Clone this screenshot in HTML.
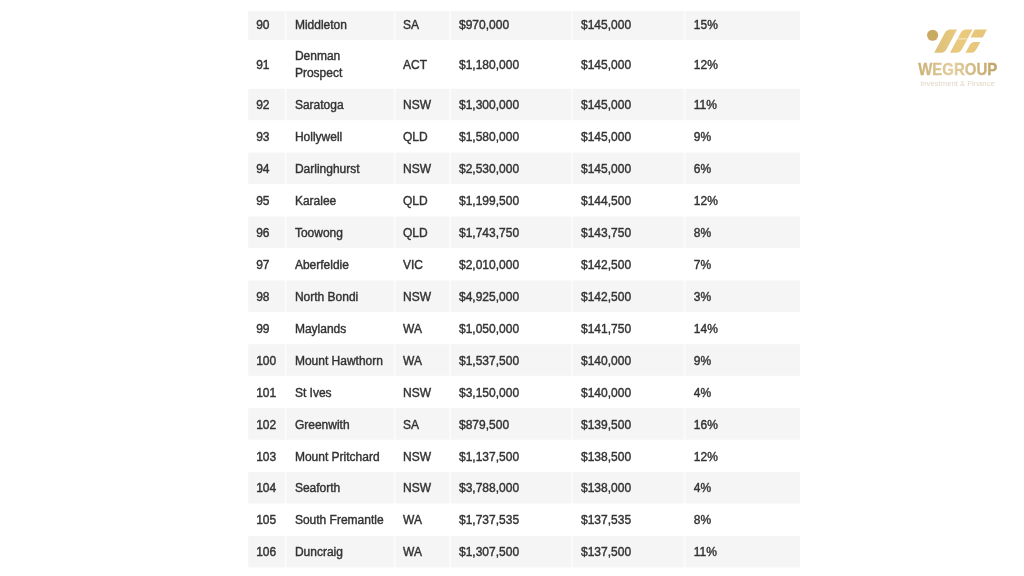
<!DOCTYPE html>
<html><head><meta charset="utf-8">
<style>
html,body{margin:0;padding:0;background:#fff;}
body{width:1024px;height:576px;overflow:hidden;position:relative;font-family:"Liberation Sans",Arial,Helvetica,sans-serif;}
svg text{white-space:pre;}
</style></head><body>
<svg width="1024" height="576" viewBox="0 0 1024 576" style="position:absolute;left:0;top:0;will-change:transform;filter:blur(0.4px)">
<g fill="#f5f5f5">
<rect x="248.20" y="11.10" width="551.80" height="28.90"/>
<rect x="284.65" y="11.10" width="2.00" height="28.90" fill="#fbfbfb"/>
<rect x="393.90" y="11.10" width="2.00" height="28.90" fill="#fbfbfb"/>
<rect x="449.10" y="11.10" width="2.00" height="28.90" fill="#fbfbfb"/>
<rect x="570.90" y="11.10" width="2.00" height="28.90" fill="#fbfbfb"/>
<rect x="683.70" y="11.10" width="2.00" height="28.90" fill="#fbfbfb"/>
<rect x="248.20" y="88.75" width="551.80" height="31.50"/>
<rect x="284.65" y="88.75" width="2.00" height="31.50" fill="#fbfbfb"/>
<rect x="393.90" y="88.75" width="2.00" height="31.50" fill="#fbfbfb"/>
<rect x="449.10" y="88.75" width="2.00" height="31.50" fill="#fbfbfb"/>
<rect x="570.90" y="88.75" width="2.00" height="31.50" fill="#fbfbfb"/>
<rect x="683.70" y="88.75" width="2.00" height="31.50" fill="#fbfbfb"/>
<rect x="248.20" y="152.63" width="551.80" height="31.50"/>
<rect x="284.65" y="152.63" width="2.00" height="31.50" fill="#fbfbfb"/>
<rect x="393.90" y="152.63" width="2.00" height="31.50" fill="#fbfbfb"/>
<rect x="449.10" y="152.63" width="2.00" height="31.50" fill="#fbfbfb"/>
<rect x="570.90" y="152.63" width="2.00" height="31.50" fill="#fbfbfb"/>
<rect x="683.70" y="152.63" width="2.00" height="31.50" fill="#fbfbfb"/>
<rect x="248.20" y="216.51" width="551.80" height="31.50"/>
<rect x="284.65" y="216.51" width="2.00" height="31.50" fill="#fbfbfb"/>
<rect x="393.90" y="216.51" width="2.00" height="31.50" fill="#fbfbfb"/>
<rect x="449.10" y="216.51" width="2.00" height="31.50" fill="#fbfbfb"/>
<rect x="570.90" y="216.51" width="2.00" height="31.50" fill="#fbfbfb"/>
<rect x="683.70" y="216.51" width="2.00" height="31.50" fill="#fbfbfb"/>
<rect x="248.20" y="280.39" width="551.80" height="31.50"/>
<rect x="284.65" y="280.39" width="2.00" height="31.50" fill="#fbfbfb"/>
<rect x="393.90" y="280.39" width="2.00" height="31.50" fill="#fbfbfb"/>
<rect x="449.10" y="280.39" width="2.00" height="31.50" fill="#fbfbfb"/>
<rect x="570.90" y="280.39" width="2.00" height="31.50" fill="#fbfbfb"/>
<rect x="683.70" y="280.39" width="2.00" height="31.50" fill="#fbfbfb"/>
<rect x="248.20" y="344.27" width="551.80" height="31.50"/>
<rect x="284.65" y="344.27" width="2.00" height="31.50" fill="#fbfbfb"/>
<rect x="393.90" y="344.27" width="2.00" height="31.50" fill="#fbfbfb"/>
<rect x="449.10" y="344.27" width="2.00" height="31.50" fill="#fbfbfb"/>
<rect x="570.90" y="344.27" width="2.00" height="31.50" fill="#fbfbfb"/>
<rect x="683.70" y="344.27" width="2.00" height="31.50" fill="#fbfbfb"/>
<rect x="248.20" y="408.15" width="551.80" height="31.50"/>
<rect x="284.65" y="408.15" width="2.00" height="31.50" fill="#fbfbfb"/>
<rect x="393.90" y="408.15" width="2.00" height="31.50" fill="#fbfbfb"/>
<rect x="449.10" y="408.15" width="2.00" height="31.50" fill="#fbfbfb"/>
<rect x="570.90" y="408.15" width="2.00" height="31.50" fill="#fbfbfb"/>
<rect x="683.70" y="408.15" width="2.00" height="31.50" fill="#fbfbfb"/>
<rect x="248.20" y="472.03" width="551.80" height="31.50"/>
<rect x="284.65" y="472.03" width="2.00" height="31.50" fill="#fbfbfb"/>
<rect x="393.90" y="472.03" width="2.00" height="31.50" fill="#fbfbfb"/>
<rect x="449.10" y="472.03" width="2.00" height="31.50" fill="#fbfbfb"/>
<rect x="570.90" y="472.03" width="2.00" height="31.50" fill="#fbfbfb"/>
<rect x="683.70" y="472.03" width="2.00" height="31.50" fill="#fbfbfb"/>
<rect x="248.20" y="535.91" width="551.80" height="31.50"/>
<rect x="284.65" y="535.91" width="2.00" height="31.50" fill="#fbfbfb"/>
<rect x="393.90" y="535.91" width="2.00" height="31.50" fill="#fbfbfb"/>
<rect x="449.10" y="535.91" width="2.00" height="31.50" fill="#fbfbfb"/>
<rect x="570.90" y="535.91" width="2.00" height="31.50" fill="#fbfbfb"/>
<rect x="683.70" y="535.91" width="2.00" height="31.50" fill="#fbfbfb"/>
</g>
<g fill="#333" stroke="#333" stroke-width="0.4" font-family="'Liberation Sans',Arial,Helvetica,sans-serif" font-size="12">
<text x="256.20" y="28.90">90</text>
<text x="294.90" y="28.90">Middleton</text>
<text x="403.00" y="28.90">SA</text>
<text x="459.00" y="28.90">$970,000</text>
<text x="581.00" y="28.90">$145,000</text>
<text x="693.80" y="28.90">15%</text>
<text x="256.20" y="69.00">91</text>
<text x="294.90" y="60.30">Denman</text>
<text x="294.90" y="77.05">Prospect</text>
<text x="403.00" y="69.00">ACT</text>
<text x="459.00" y="69.00">$1,180,000</text>
<text x="581.00" y="69.00">$145,000</text>
<text x="693.80" y="69.00">12%</text>
<text x="256.20" y="109.15">92</text>
<text x="294.90" y="109.15">Saratoga</text>
<text x="403.00" y="109.15">NSW</text>
<text x="459.00" y="109.15">$1,300,000</text>
<text x="581.00" y="109.15">$145,000</text>
<text x="693.80" y="109.15">11%</text>
<text x="256.20" y="141.09">93</text>
<text x="294.90" y="141.09">Hollywell</text>
<text x="403.00" y="141.09">QLD</text>
<text x="459.00" y="141.09">$1,580,000</text>
<text x="581.00" y="141.09">$145,000</text>
<text x="693.80" y="141.09">9%</text>
<text x="256.20" y="173.03">94</text>
<text x="294.90" y="173.03">Darlinghurst</text>
<text x="403.00" y="173.03">NSW</text>
<text x="459.00" y="173.03">$2,530,000</text>
<text x="581.00" y="173.03">$145,000</text>
<text x="693.80" y="173.03">6%</text>
<text x="256.20" y="204.97">95</text>
<text x="294.90" y="204.97">Karalee</text>
<text x="403.00" y="204.97">QLD</text>
<text x="459.00" y="204.97">$1,199,500</text>
<text x="581.00" y="204.97">$144,500</text>
<text x="693.80" y="204.97">12%</text>
<text x="256.20" y="236.91">96</text>
<text x="294.90" y="236.91">Toowong</text>
<text x="403.00" y="236.91">QLD</text>
<text x="459.00" y="236.91">$1,743,750</text>
<text x="581.00" y="236.91">$143,750</text>
<text x="693.80" y="236.91">8%</text>
<text x="256.20" y="268.85">97</text>
<text x="294.90" y="268.85">Aberfeldie</text>
<text x="403.00" y="268.85">VIC</text>
<text x="459.00" y="268.85">$2,010,000</text>
<text x="581.00" y="268.85">$142,500</text>
<text x="693.80" y="268.85">7%</text>
<text x="256.20" y="300.79">98</text>
<text x="294.90" y="300.79">North Bondi</text>
<text x="403.00" y="300.79">NSW</text>
<text x="459.00" y="300.79">$4,925,000</text>
<text x="581.00" y="300.79">$142,500</text>
<text x="693.80" y="300.79">3%</text>
<text x="256.20" y="332.73">99</text>
<text x="294.90" y="332.73">Maylands</text>
<text x="403.00" y="332.73">WA</text>
<text x="459.00" y="332.73">$1,050,000</text>
<text x="581.00" y="332.73">$141,750</text>
<text x="693.80" y="332.73">14%</text>
<text x="256.20" y="364.67">100</text>
<text x="294.90" y="364.67">Mount Hawthorn</text>
<text x="403.00" y="364.67">WA</text>
<text x="459.00" y="364.67">$1,537,500</text>
<text x="581.00" y="364.67">$140,000</text>
<text x="693.80" y="364.67">9%</text>
<text x="256.20" y="396.61">101</text>
<text x="294.90" y="396.61">St Ives</text>
<text x="403.00" y="396.61">NSW</text>
<text x="459.00" y="396.61">$3,150,000</text>
<text x="581.00" y="396.61">$140,000</text>
<text x="693.80" y="396.61">4%</text>
<text x="256.20" y="428.55">102</text>
<text x="294.90" y="428.55">Greenwith</text>
<text x="403.00" y="428.55">SA</text>
<text x="459.00" y="428.55">$879,500</text>
<text x="581.00" y="428.55">$139,500</text>
<text x="693.80" y="428.55">16%</text>
<text x="256.20" y="461.09">103</text>
<text x="294.90" y="461.09">Mount Pritchard</text>
<text x="403.00" y="461.09">NSW</text>
<text x="459.00" y="461.09">$1,137,500</text>
<text x="581.00" y="461.09">$138,500</text>
<text x="693.80" y="461.09">12%</text>
<text x="256.20" y="492.43">104</text>
<text x="294.90" y="492.43">Seaforth</text>
<text x="403.00" y="492.43">NSW</text>
<text x="459.00" y="492.43">$3,788,000</text>
<text x="581.00" y="492.43">$138,000</text>
<text x="693.80" y="492.43">4%</text>
<text x="256.20" y="524.37">105</text>
<text x="294.90" y="524.37">South Fremantle</text>
<text x="403.00" y="524.37">WA</text>
<text x="459.00" y="524.37">$1,737,535</text>
<text x="581.00" y="524.37">$137,535</text>
<text x="693.80" y="524.37">8%</text>
<text x="256.20" y="556.31">106</text>
<text x="294.90" y="556.31">Duncraig</text>
<text x="403.00" y="556.31">WA</text>
<text x="459.00" y="556.31">$1,307,500</text>
<text x="581.00" y="556.31">$137,500</text>
<text x="693.80" y="556.31">11%</text>
</g>
<defs>
<linearGradient id="gt" x1="0" x2="1" y1="0" y2="0"><stop offset="0" stop-color="#cdb176"/><stop offset="0.45" stop-color="#e2cf9f"/><stop offset="1" stop-color="#bfa064"/></linearGradient>
<linearGradient id="gl" gradientUnits="userSpaceOnUse" x1="934" x2="987" y1="0" y2="0"><stop offset="0" stop-color="#dcc07a"/><stop offset="0.5" stop-color="#ebca7e"/><stop offset="1" stop-color="#e6c57a"/></linearGradient>
</defs>
<g id="logo">
<circle cx="932.6" cy="35.25" r="5.55" fill="#caa962"/>
<g fill="url(#gl)">
<path d="M950.17 29.60 L957.07 29.60 L946.49 49.20 Q944.60 52.70 941.10 52.70 L934.20 52.70 L944.78 33.10 Q946.67 29.60 950.17 29.60 Z"/>
<path d="M965.97 29.60 L972.47 29.60 L961.89 49.20 Q960.00 52.70 956.50 52.70 L950.00 52.70 L960.58 33.10 Q962.47 29.60 965.97 29.60 Z"/>
<path d="M975.61 29.60 L986.91 29.60 L982.70 37.40 L970.40 37.40 L974.07 30.60 Q974.61 29.60 975.61 29.60 Z"/>
<path d="M974.33 41.90 L980.33 41.90 L976.12 49.70 Q974.50 52.70 971.50 52.70 L965.50 52.70 L969.71 44.90 Q971.33 41.90 974.33 41.90 Z"/>
</g>
<path d="M957.3 38.85 L969 38.85" stroke="#fbf3df" stroke-width="0.8" fill="none"/>
<text x="918.2" y="75.2" stroke="url(#gt)" stroke-width="0.35" font-family="'Liberation Sans',Arial,sans-serif" font-weight="bold" font-size="16.7" textLength="79.0" lengthAdjust="spacingAndGlyphs" fill="url(#gt)">WEGROUP</text>
<text x="920.2" y="85.6" font-family="'Liberation Sans',Arial,sans-serif" font-size="7.6" textLength="74.6" lengthAdjust="spacingAndGlyphs" fill="#e0d8c6">Investment &amp; Finance</text>
</g>

</svg>
</body></html>
